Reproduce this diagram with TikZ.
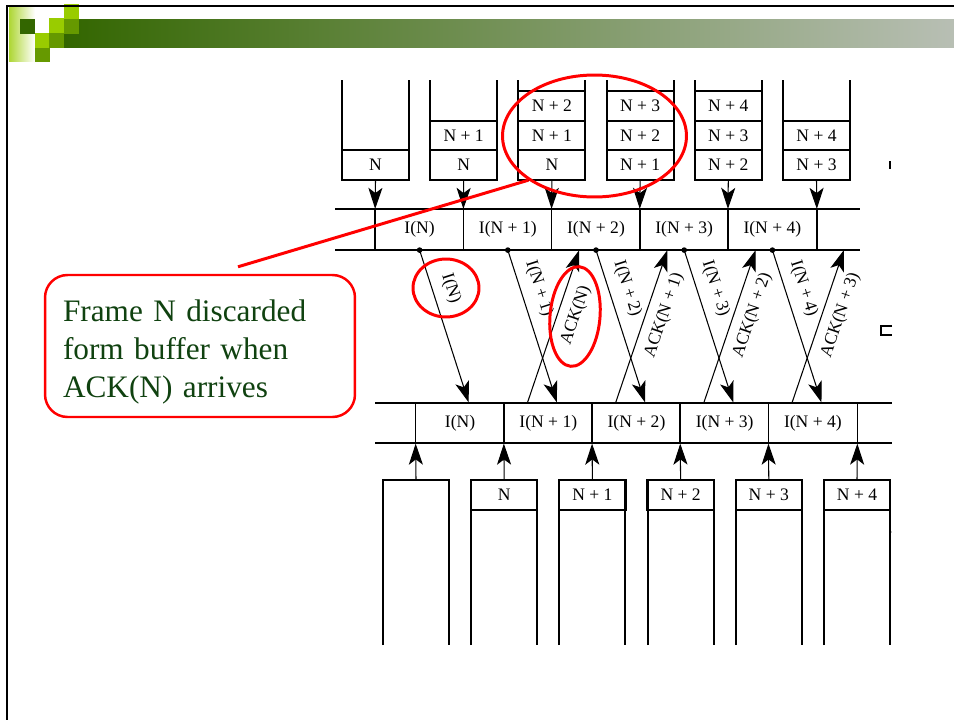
\documentclass[tikz,border=0pt]{standalone}
\usepackage{fontspec}
\setmainfont{Liberation Serif}
\usetikzlibrary{arrows.meta}
\usetikzlibrary{shapes.geometric}
\usetikzlibrary{calc}
\definecolor{leaf}{RGB}{153,204,0}
\definecolor{moss}{RGB}{102,153,0}
\definecolor{pine}{RGB}{51,102,0}
\definecolor{barend}{RGB}{184,191,180}
\definecolor{notegreen}{RGB}{16,66,16}
\tikzset{wall/.style={line width=1.2pt},
 slot/.style={draw, line width=0.9pt, minimum width=1.34cm, minimum height=0.59cm,
   inner sep=0pt, font=\fontsize{10}{12}\selectfont},
 cell/.style={minimum width=1.764cm, minimum height=0.81cm, inner sep=0pt,
   font=\fontsize{10}{12}\selectfont},
 chan/.style={line width=1.2pt},
 sep/.style={line width=0.9pt},
 feed/.style={line width=0.6pt, -{Stealth[length=12pt,width=8pt,inset=3pt]}},
 msg/.style={line width=0.6pt, -{Stealth[length=12pt,width=8pt,inset=3pt]}},
 lab/.style={sloped, font=\fontsize{10}{12}\selectfont},
 hl/.style={draw=red, line width=1.7pt},
 ring/.style={hl, ellipse, inner sep=0pt},
 }

\begin{document}
\begin{tikzpicture}[x=0.02cm, y=-0.02cm]
        \useasboundingbox (0,0) rectangle (954,720);
        \fill[white] (0,0) rectangle (954,720);

        % title bar
        \shade[left color=leaf!80, right color=white] (9,6) rectangle (35,61);
        \shade[left color=pine, right color=barend] (64,19) rectangle (954,47);
        \fill[pine] (20,19) rectangle (35,34);
        \fill[leaf] (35,33) rectangle (50,48);
        \fill[moss] (35,48) rectangle (50,62);
        \fill[leaf] (49,18) rectangle (64,33);
        \fill[moss] (49,33) rectangle (64,48);
        \fill[leaf] (64,4) rectangle (79,19);
        \fill[moss] (64,19) rectangle (79,34);
        \draw[line width=1.2pt] (7,720) -- (7,6) -- (954,6);

        % sending windows
        \foreach \i in {1,...,6} {
            \draw[wall] ({375.5+88.2*(\i-1)-33.5}, 80) -- ({375.5+88.2*(\i-1)-33.5}, 180)
                -- ({375.5+88.2*(\i-1)+33.5}, 180) -- ({375.5+88.2*(\i-1)+33.5}, 80);
        }
        \foreach \i/\j/\t in {1/1/N, 2/1/N, 2/2/N + 1, 3/1/N, 3/2/N + 1, 3/3/N + 2,
                4/1/N + 1, 4/2/N + 2, 4/3/N + 3, 5/1/N + 2, 5/2/N + 3, 5/3/N + 4,
                6/1/N + 3, 6/2/N + 4} {
            \node[slot] (s\i-\j) at ({375.5+88.2*(\i-1)}, {165-29.5*(\j-1)}) {\t};
        }

        % upper line
        \foreach \t[count=\i] in {I(N), I(N + 1), I(N + 2), I(N + 3), I(N + 4)} {
            \node[cell] (u\i) at ({419.6+88.2*(\i-1)}, 229.5) {\t};
        }
        \draw[chan] (335,209) -- (860,209) (335,250) -- (860,250);
        \foreach \i in {1,...,5} {
            \draw[feed] (s\i-1.south) -- (u\i.north west);
            \draw[sep] (u\i.north west) -- (u\i.south west);
        }
        \draw[feed] (s6-1.south) -- (u5.north east);
        \draw[sep] (u5.north east) -- (u5.south east);

        % lower line
        \foreach \t[count=\i] in {I(N), I(N + 1), I(N + 2), I(N + 3), I(N + 4)} {
            \node[cell] (l\i) at ({460.1+88.2*(\i-1)}, 423) {\t};
        }
        \draw[chan] (375,403) -- (892,403) (375,443) -- (892,443);

        % receiving windows
        \foreach \i in {1,...,6} {
            \draw[wall] ({416+88.2*(\i-1)-33}, 645) -- ({416+88.2*(\i-1)-33}, 480)
                -- ({416+88.2*(\i-1)+33}, 480) -- ({416+88.2*(\i-1)+33}, 645);
        }
        \node[slot, draw=none] (b1) at (416,495) {};
        \foreach \t[count=\i from 2] in {N, N + 1, N + 2, N + 3, N + 4} {
            \node[slot] (b\i) at ({416+88.2*(\i-1)}, 495) {\t};
        }
        \foreach \i in {1,...,5} {
            \draw[feed] (b\i.north) -- (l\i.south west);
            \draw[sep] (l\i.north west) -- (l\i.south west);
        }
        \draw[feed] (b6.north) -- (l5.south east);
        \draw[sep] (l5.north east) -- (l5.south east);

        % frames and acks
        \foreach \t[count=\i] in {I(N), I(N + 1), I(N + 2), I(N + 3), I(N + 4)} {
            \fill (u\i.south) circle (1.6pt);
            \draw[msg] (u\i.south) -- ($(l\i.north west)+(53,0)$)
                node[lab, above=2pt, pos=0.29] {\t};
        }
        \foreach \i/\j/\t in {1/2/ACK(N), 2/3/ACK(N + 1), 3/4/ACK(N + 2), 4/5/ACK(N + 3)} {
            \draw[msg] ($(l\i.north east)+(23,0)$) -- ($(u\j.south east)+(27,0)$)
                node[lab, below=2pt, pos=0.61] {\t};
        }

        % stray marks at the cut edge
        \draw[line width=0.8pt] (890,161) -- (890,169);
        \draw[line width=0.8pt] (892,326) -- (881,326) -- (881,335) -- (892,335);
        \fill (891,532) circle (0.4pt);

        % highlights
        \node[ring, minimum width=3.68cm, minimum height=2.44cm] (win) at (594.5,136) {};
        \node[ring, minimum width=1.32cm, minimum height=1.16cm] (dropring) at (446,288) {};
        \node[ring, minimum width=1.0cm, minimum height=2.0cm, rotate=-5] (ackring) at (575,316.5) {};
        \node[draw=red, line width=1.4pt, rounded corners=0.45cm, text=notegreen,
            text width=5.48cm, inner xsep=0.36cm, minimum height=2.84cm, align=left,
            font=\fontsize{17.8}{21.8}\selectfont] (note) at (200,346)
            {\rule{0pt}{19pt}Frame N discarded\\form buffer when\\ACK(N) arrives};
        \draw[hl] ([shift={(38,-7)}]note.north) -- (win.south west);
    \end{tikzpicture}
\end{document}
